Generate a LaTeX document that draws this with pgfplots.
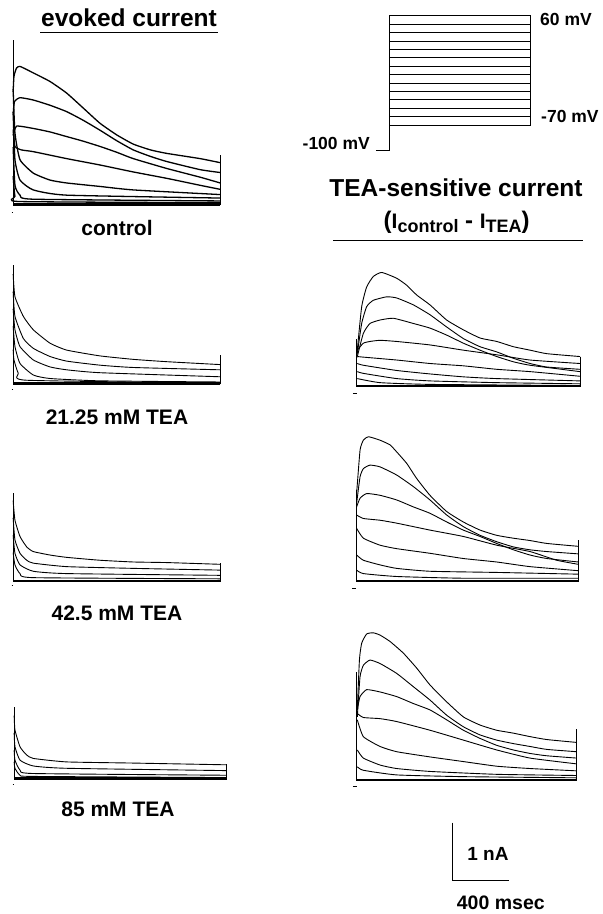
\documentclass[border=0pt]{standalone}
\usepackage{pgfplots}
\pgfplotsset{compat=1.18}
\usepackage{fontspec}
\setmainfont{Liberation Sans}
\pgfplotsset{
  panel/.style={hide axis, clip=false, anchor=origin, xmin=-50, xmax=1600, ymin=-0.3, ymax=3, y=58pt, x=0.14pt},
  tr/.style={black, line width=0.9pt, smooth, tension=0.3, mark=none, line join=round},
  trk/.style={black, line width=1.3pt, smooth, tension=0.3, mark=none, line join=round},
  st/.style={black, line width=0.8pt, mark=none},
  base/.style={black, line width=2.6pt, mark=none},
}
\begin{document}
\begin{tikzpicture}[x=1pt,y=1pt]
\path[use as bounding box] (0,0) rectangle (603,-914);

% ---------------- control ----------------
\begin{axis}[panel, at={(13pt,-205pt)}]
\addplot[st] coordinates {(0,0) (0,2.84)};
\addplot[st] coordinates {(-10,-0.13) (0,-0.13)};
\addplot[trk] coordinates {(1,1.95) (7,2.22) (25,2.36) (50,2.39) (143,2.28) (264,2.13) (383,1.93) (507,1.66) (621,1.41) (740,1.21) (859,1.05) (982,0.95) (1098,0.89) (1336,0.80) (1480,0.73)};
\addplot[trk] coordinates {(1,1.55) (10,1.78) (50,1.85) (145,1.81) (264,1.72) (383,1.61) (502,1.46) (621,1.29) (740,1.11) (859,0.95) (979,0.84) (1098,0.75) (1336,0.61) (1480,0.56)};
\addplot[trk] coordinates {(1,1.2) (26,1.36) (145,1.32) (264,1.26) (383,1.18) (502,1.10) (621,1.01) (740,0.91) (859,0.80) (1098,0.63) (1336,0.48) (1480,0.38)};
\addplot[trk] coordinates {(1,1.3) (14,1.01) (60,0.95) (145,0.92) (383,0.80) (621,0.69) (859,0.57) (1098,0.46) (1336,0.34) (1480,0.27)};
\addplot[trk] coordinates {(1,2.0) (14,1.24) (50,0.78) (145,0.55) (264,0.43) (383,0.38) (621,0.32) (859,0.26) (1480,0.18)};
\addplot[trk] coordinates {(1,1.6) (14,0.78) (50,0.43) (145,0.26) (383,0.17) (1480,0.12)};
\addplot[trk] coordinates {(1,1.0) (14,0.34) (50,0.17) (145,0.10) (1480,0.07)};
\addplot[trk] coordinates {(1,0.5) (14,0.15) (50,0.06) (1480,0.04)};
\addplot[base] coordinates {(0,0.01) (1480,0.01)};
\addplot[st] coordinates {(1480,0) (1480,0.86)};
\end{axis}

% ---------------- 21.25 mM ----------------
\begin{axis}[panel, at={(13pt,-384.3pt)}]
\addplot[st] coordinates {(0,0) (0,2.06)};
\addplot[st] coordinates {(-10,-0.08) (0,-0.08)};
\addplot[tr] coordinates {(1,1.9) (14,1.51) (74,1.17) (145,0.94) (264,0.71) (383,0.59) (621,0.49) (860,0.43) (1098,0.39) (1479,0.34)};
\addplot[tr] coordinates {(1,1.6) (14,1.17) (74,0.79) (145,0.62) (264,0.48) (383,0.40) (621,0.33) (860,0.29) (1479,0.25)};
\addplot[tr] coordinates {(1,1.3) (14,0.94) (50,0.65) (145,0.42) (264,0.30) (383,0.25) (621,0.20) (1479,0.13)};
\addplot[tr] coordinates {(1,1.0) (14,0.65) (50,0.36) (145,0.16) (264,0.10) (621,0.06) (1479,0.04)};
\addplot[tr] coordinates {(1,0.6) (7,0.42) (38,0.19) (98,0.07) (1479,0.02)};
\addplot[base] coordinates {(0,0.01) (1479,0.01)};
\addplot[st] coordinates {(1479,0) (1479,0.5)};
\end{axis}

% ---------------- 42.5 mM ----------------
\begin{axis}[panel, at={(13pt,-581.7pt)}]
\addplot[st] coordinates {(0,0) (0,1.53)};
\addplot[st] coordinates {(-10,-0.06) (0,-0.06)};
\addplot[tr] coordinates {(1,1.4) (14,1.06) (50,0.78) (98,0.60) (145,0.52) (264,0.46) (383,0.42) (621,0.37) (860,0.34) (1098,0.33) (1479,0.30)};
\addplot[tr] coordinates {(1,1.1) (14,0.72) (50,0.49) (98,0.37) (145,0.32) (383,0.26) (860,0.23) (1479,0.20)};
\addplot[tr] coordinates {(1,0.8) (14,0.49) (50,0.29) (145,0.18) (383,0.14) (1479,0.11)};
\addplot[tr] coordinates {(1,0.5) (14,0.29) (50,0.14) (145,0.07) (1479,0.05)};
\addplot[base] coordinates {(0,0.01) (1479,0.01)};
\addplot[st] coordinates {(1479,0) (1479,0.32)};
\end{axis}

% ---------------- 85 mM ----------------
\begin{axis}[panel, at={(14pt,-779.3pt)}]
\addplot[st] coordinates {(0,0) (0,1.25)};
\addplot[st] coordinates {(-10,-0.08) (0,-0.08)};
\addplot[tr] coordinates {(1,1.1) (7,0.85) (43,0.56) (90,0.42) (138,0.36) (376,0.30) (852,0.28) (1519,0.25)};
\addplot[tr] coordinates {(1,0.8) (7,0.56) (43,0.33) (138,0.23) (376,0.19) (1519,0.15)};
\addplot[tr] coordinates {(1,0.5) (7,0.33) (43,0.16) (138,0.10) (1519,0.07)};
\addplot[tr] coordinates {(1,0.3) (7,0.19) (43,0.07) (138,0.05) (1519,0.03)};
\addplot[base] coordinates {(0,0.01) (1519,0.01)};
\addplot[st] coordinates {(1519,0) (1519,0.26)};
\end{axis}

% ---------------- voltage protocol ----------------
\begin{axis}[hide axis, clip=false, anchor=origin, at={(389pt,-66.1pt)}, x=0.1417pt, y=0.84pt,
  xmin=-150, xmax=1100, ymin=-110, ymax=70]
\addplot[st, line width=0.7pt] coordinates {(-92,-100) (0,-100) (0,60)};
\addplot[st, line width=0.7pt] coordinates {(1000,-70) (1000,60)};
\addplot[st, line width=0.7pt] coordinates {(0,60) (1000,60)};
\addplot[st, line width=0.7pt] coordinates {(0,50) (1000,50)};
\addplot[st, line width=0.7pt] coordinates {(0,40) (1000,40)};
\addplot[st, line width=0.7pt] coordinates {(0,30) (1000,30)};
\addplot[st, line width=0.7pt] coordinates {(0,20) (1000,20)};
\addplot[st, line width=0.7pt] coordinates {(0,10) (1000,10)};
\addplot[st, line width=0.7pt] coordinates {(0,0) (1000,0)};
\addplot[st, line width=0.7pt] coordinates {(0,-10) (1000,-10)};
\addplot[st, line width=0.7pt] coordinates {(0,-20) (1000,-20)};
\addplot[st, line width=0.7pt] coordinates {(0,-30) (1000,-30)};
\addplot[st, line width=0.7pt] coordinates {(0,-40) (1000,-40)};
\addplot[st, line width=0.7pt] coordinates {(0,-50) (1000,-50)};
\addplot[st, line width=0.7pt] coordinates {(0,-60) (1000,-60)};
\addplot[st, line width=0.7pt] coordinates {(0,-70) (1000,-70)};
\end{axis}

% ---------------- TEA-sensitive 1 ----------------
\begin{axis}[panel, x=0.1509pt, at={(356.7pt,-386.7pt)}]
\addplot[st] coordinates {(0,0) (0,0.83)};
\addplot[st] coordinates {(-25,-0.11) (0,-0.11)};
\addplot[tr] coordinates {(1,0.5) (4,0.63) (33,1.38) (66,1.72) (110,1.90) (166,1.97) (265,1.87) (331,1.75) (398,1.58) (486,1.41) (596,1.15) (707,0.98) (817,0.84) (928,0.78) (1038,0.69) (1149,0.63) (1259,0.57) (1480,0.52)};
\addplot[tr] coordinates {(4,0.57) (33,1.09) (66,1.38) (110,1.49) (199,1.55) (265,1.53) (376,1.41) (486,1.24) (596,1.03) (707,0.83) (817,0.69) (928,0.60) (1038,0.49) (1149,0.40) (1259,0.34) (1480,0.30)};
\addplot[tr] coordinates {(4,0.52) (44,0.92) (88,1.09) (155,1.15) (243,1.18) (376,1.09) (486,1.01) (596,0.89) (707,0.75) (817,0.63) (928,0.52) (1038,0.43) (1149,0.37) (1480,0.26)};
\addplot[tr] coordinates {(4,0.63) (44,0.75) (88,0.78) (155,0.80) (265,0.78) (486,0.72) (707,0.63) (928,0.55) (1149,0.46) (1480,0.40)};
\addplot[tr] coordinates {(4,0.52) (44,0.51) (265,0.46) (486,0.40) (707,0.36) (928,0.30) (1149,0.26) (1480,0.18)};
\addplot[tr] coordinates {(4,0.40) (44,0.37) (265,0.28) (486,0.22) (707,0.17) (928,0.14) (1480,0.10)};
\addplot[tr] coordinates {(4,0.26) (44,0.23) (265,0.14) (486,0.10) (928,0.07) (1480,0.05)};
\addplot[tr] coordinates {(4,0.14) (155,0.07) (486,0.04) (1480,0.02)};
\addplot[base] coordinates {(0,0.01) (1480,0.01)};
\addplot[st] coordinates {(1480,0) (1480,0.52)};
\end{axis}

% ---------------- TEA-sensitive 2 ----------------
\begin{axis}[panel, x=0.1509pt, at={(356pt,-581.7pt)}]
\addplot[st] coordinates {(0,0) (0,1.58)};
\addplot[st] coordinates {(-25,-0.11) (0,-0.11)};
\addplot[tr] coordinates {(4,1.52) (27,2.27) (49,2.44) (82,2.50) (159,2.44) (225,2.36) (269,2.24) (336,2.04) (402,1.78) (490,1.49) (601,1.21) (711,1.03) (822,0.89) (932,0.80) (1043,0.75) (1153,0.71) (1264,0.66) (1473,0.61)};
\addplot[tr] coordinates {(4,1.35) (27,1.81) (49,1.95) (93,2.01) (159,1.98) (269,1.84) (380,1.64) (490,1.41) (601,1.15) (711,0.95) (822,0.80) (932,0.69) (1043,0.60) (1153,0.55) (1264,0.52) (1473,0.48)};
\addplot[tr] coordinates {(4,1.29) (27,1.44) (71,1.52) (159,1.49) (269,1.41) (380,1.29) (490,1.18) (601,1.03) (711,0.89) (822,0.78) (932,0.66) (1043,0.55) (1153,0.46) (1264,0.40) (1473,0.34)};
\addplot[tr] coordinates {(4,1.15) (49,1.09) (159,1.06) (269,1.01) (490,0.89) (711,0.78) (932,0.63) (1153,0.52) (1330,0.37) (1473,0.30)};
\addplot[tr] coordinates {(4,0.92) (49,0.75) (159,0.63) (269,0.57) (490,0.49) (711,0.40) (932,0.34) (1153,0.26) (1473,0.19)};
\addplot[tr] coordinates {(4,0.46) (49,0.37) (159,0.29) (269,0.23) (490,0.18) (932,0.16) (1473,0.13)};
\addplot[tr] coordinates {(4,0.20) (49,0.14) (269,0.09) (711,0.06) (1473,0.06)};
\addplot[base] coordinates {(0,0.01) (1473,0.01)};
\addplot[st] coordinates {(1473,0) (1473,0.72)};
\end{axis}

% ---------------- TEA-sensitive 3 ----------------
\begin{axis}[panel, x=0.1509pt, at={(356.7pt,-780.7pt)}]
\addplot[st] coordinates {(0,0) (0,1.88)};
\addplot[st] coordinates {(-25,-0.09) (0,-0.09)};
\addplot[tr] coordinates {(4,1.22) (18,2.08) (33,2.37) (66,2.53) (110,2.55) (155,2.51) (221,2.40) (309,2.20) (398,1.94) (486,1.65) (596,1.36) (707,1.10) (817,0.96) (928,0.87) (1038,0.82) (1149,0.76) (1259,0.71) (1458,0.66)};
\addplot[tr] coordinates {(4,1.10) (22,1.79) (44,1.99) (88,2.08) (155,2.02) (265,1.85) (376,1.62) (486,1.39) (596,1.13) (707,0.93) (817,0.79) (928,0.70) (1038,0.64) (1149,0.59) (1259,0.54) (1458,0.50)};
\addplot[tr] coordinates {(4,1.22) (22,1.45) (66,1.57) (155,1.53) (265,1.45) (376,1.33) (486,1.22) (596,1.05) (707,0.87) (817,0.73) (928,0.61) (1038,0.53) (1149,0.47) (1259,0.43) (1458,0.39)};
\addplot[tr] coordinates {(4,1.16) (44,1.09) (155,1.07) (265,1.02) (486,0.87) (707,0.70) (928,0.53) (1149,0.39) (1458,0.29)};
\addplot[tr] coordinates {(4,1.05) (44,0.76) (155,0.59) (265,0.50) (486,0.41) (707,0.33) (928,0.25) (1149,0.21) (1458,0.17)};
\addplot[tr] coordinates {(4,0.53) (44,0.39) (155,0.27) (265,0.21) (486,0.16) (928,0.11) (1458,0.09)};
\addplot[tr] coordinates {(4,0.24) (44,0.18) (265,0.10) (707,0.07) (1458,0.05)};
\addplot[base] coordinates {(0,0.01) (1458,0.01)};
\addplot[st] coordinates {(1458,0) (1458,0.90)};
\end{axis}

% ---------------- scale bar ----------------
\begin{axis}[panel, at={(452.7pt,-880.7pt)}]
\addplot[black, line width=1.3pt, mark=none] coordinates {(0,1) (0,0) (400,0)};
\end{axis}

% ---------------- texts ----------------
\node[anchor=base, font=\bfseries\fontsize{24.5}{24.5}\selectfont] at (129,-26.5) {evoked current};
\draw[line width=1pt] (40,-32) -- (218,-32);
\node[anchor=base, font=\bfseries\fontsize{21}{21}\selectfont] at (117,-235) {control};
\node[anchor=base, font=\bfseries\fontsize{21}{21}\selectfont] at (117,-424) {21.25 mM TEA};
\node[anchor=base, font=\bfseries\fontsize{21}{21}\selectfont] at (117,-620) {42.5 mM TEA};
\node[anchor=base, font=\bfseries\fontsize{21}{21}\selectfont] at (118,-816.7) {85 mM TEA};
\node[anchor=base west, font=\bfseries\fontsize{17.5}{17.5}\selectfont, inner sep=0pt] at (540,-25) {60 mV};
\node[anchor=base west, font=\bfseries\fontsize{17.5}{17.5}\selectfont, inner sep=0pt] at (541,-122.7) {-70 mV};
\node[anchor=base east, font=\bfseries\fontsize{17.5}{17.5}\selectfont, inner sep=0pt] at (370,-149.3) {-100 mV};
\node[anchor=base, font=\bfseries\fontsize{24.5}{24.5}\selectfont] at (456,-196) {TEA-sensitive current};
\node[anchor=base, font=\bfseries\fontsize{24}{24}\selectfont] at (456.7,-228) {({\fontsize{21}{21}\selectfont I}\raisebox{-4pt}{\fontsize{18}{18}\selectfont control} - {\fontsize{21}{21}\selectfont I}\raisebox{-4pt}{\fontsize{18}{18}\selectfont TEA})};
\draw[line width=1.5pt] (333,-240.7) -- (583,-240.7);
\node[anchor=base, font=\bfseries\fontsize{19}{19}\selectfont] at (488,-860.7) {1 nA};
\node[anchor=base west, font=\bfseries\fontsize{19.5}{19.5}\selectfont, inner sep=0pt] at (456.7,-909.5) {400 msec};
\end{tikzpicture}
\end{document}
